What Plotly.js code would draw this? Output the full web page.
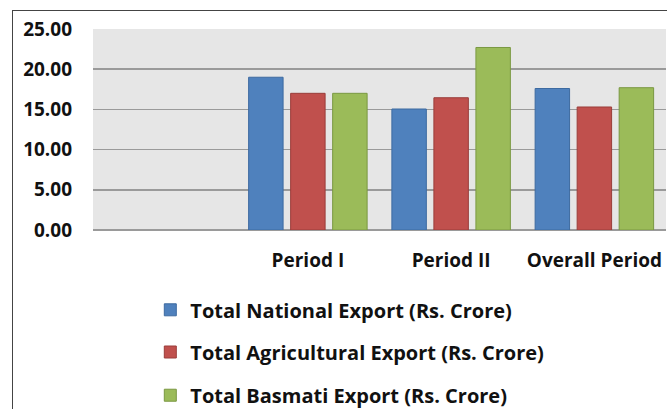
<!DOCTYPE html>
<html>
<head>
<meta charset="utf-8">
<script src="https://cdn.plot.ly/plotly-3.0.1.min.js"></script>
<style>
html,body{margin:0;padding:0;background:#fff;overflow:hidden;}
#chart{position:absolute;left:0;top:0;width:667px;height:409px;}
#frame{position:absolute;left:12px;top:10px;width:700px;height:450px;border-left:1.5px solid #444;border-top:1.5px solid #444;pointer-events:none;}
</style>
</head>
<body>
<div id="chart"></div>
<div id="frame"></div>
<script>
const categories = ['Period I', 'Period II', 'Overall Period'];
const seriesNames = ['Total National Export (Rs. Crore)', 'Total Agricultural Export (Rs. Crore)', 'Total Basmati Export (Rs. Crore)'];
const nationalExport = [19.0, 15.05, 17.6];
const agriculturalExport = [17.0, 16.45, 15.3];
const basmatiExport = [17.0, 22.7, 17.7];
const yTicks = [0, 5, 10, 15, 20, 25];

const fillColors = ['#4f81bd', '#c0504d', '#9bbb59'];
const lineColors = ['#3d6aa0', '#9a3d3a', '#7a9842'];
const values = [nationalExport, agriculturalExport, basmatiExport];
const legendIds = ['legend', 'legend2', 'legend3'];

const tickFont = {family: '"Open Sans", Lato, sans-serif', size: 19, color: '#111', weight: 'bold'};
const legendFont = {family: '"Open Sans", Lato, sans-serif', size: 20, color: '#111', weight: 'bold'};

const traces = values.map((v, i) => ({
  type: 'bar',
  x: categories,
  y: v,
  name: seriesNames[i],
  legend: legendIds[i],
  marker: {color: fillColors[i], line: {color: lineColors[i], width: 1}},
  hoverinfo: 'skip'
}));

const legendYs = [-0.397, -0.607, -0.822];
const layout = {
  width: 667, height: 409,
  margin: {l: 93, r: 1, t: 29, b: 179, autoexpand: false},
  paper_bgcolor: '#ffffff',
  plot_bgcolor: '#e6e6e6',
  font: tickFont,
  barmode: 'group',
  bargap: 0.12,
  bargroupgap: 0.18,
  xaxis: {
    type: 'category',
    range: [-1.5, 2.5],
    showgrid: false,
    zeroline: false,
    showline: false,
    ticks: '',
    ticklabelstandoff: 17,
    tickfont: tickFont,
    fixedrange: true
  },
  yaxis: {
    range: [0, 25],
    tickvals: yTicks,
    tickformat: '.2f',
    showgrid: true,
    gridcolor: '#9a9a9a',
    gridwidth: 1.5,
    zeroline: true,
    zerolinecolor: '#9a9a9a',
    zerolinewidth: 1.5,
    showline: false,
    ticks: '',
    ticklabelstandoff: 20,
    tickfont: tickFont,
    fixedrange: true
  },
  showlegend: true
};
legendIds.forEach((id, i) => {
  layout[id] = {
    x: 0.1, xanchor: 'left',
    y: legendYs[i], yanchor: 'middle',
    bgcolor: 'rgba(0,0,0,0)',
    font: legendFont,
    orientation: 'v'
  };
});

Plotly.newPlot('chart', traces, layout, {displayModeBar: false, staticPlot: true});
</script>
</body>
</html>
